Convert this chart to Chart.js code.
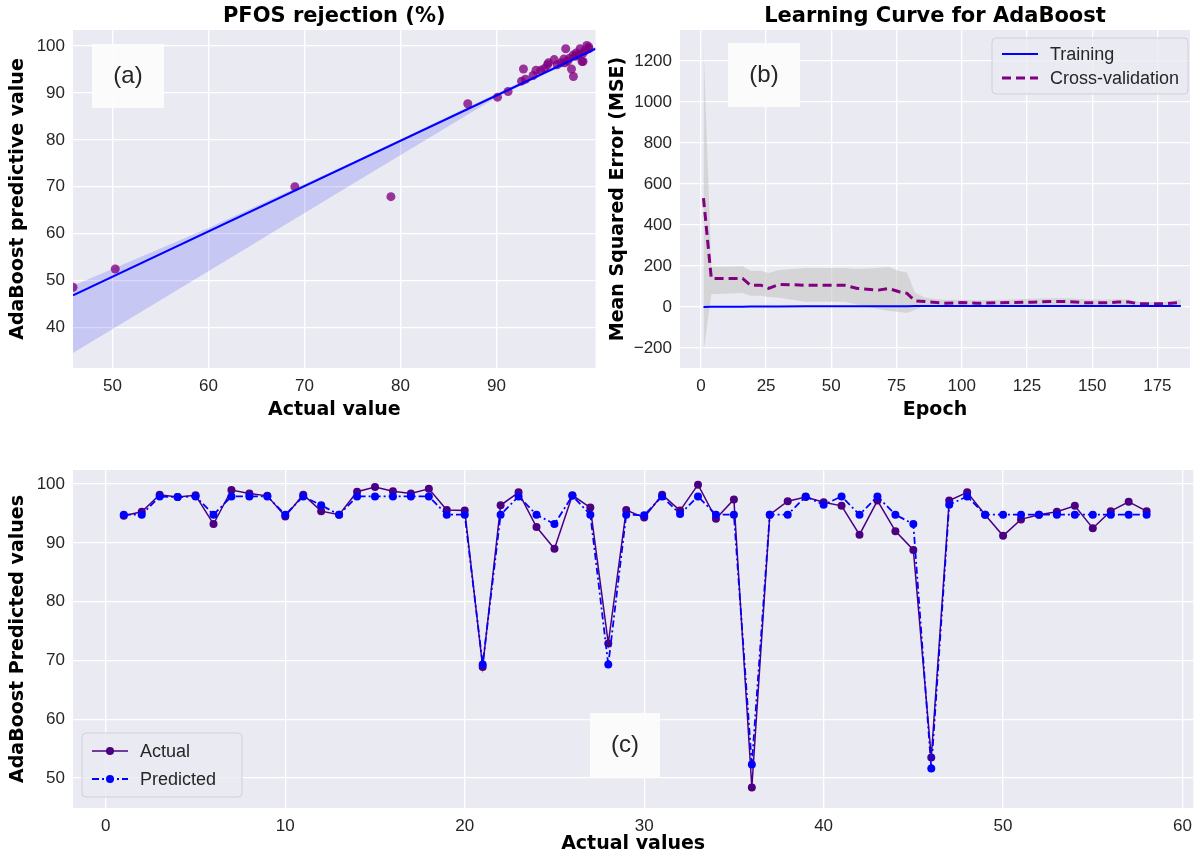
<!DOCTYPE html>
<html lang="en">
<head>
<meta charset="UTF-8">
<title>AdaBoost - PFOS rejection</title>
<script src="https://cdn.jsdelivr.net/npm/chart.js@4.4.1/dist/chart.umd.min.js"></script>
<style>
  body { margin: 0; background: #fff; width: 1200px; height: 859px; position: relative; overflow: hidden; }
  canvas { position: absolute; }
  #chartA { left: 0; top: 0; }
  #chartB { left: 600px; top: 0; }
  #chartC { left: 0; top: 440px; }
</style>
</head>
<body>
<canvas id="chartA" width="600" height="425"></canvas>
<canvas id="chartB" width="600" height="425"></canvas>
<canvas id="chartC" width="1200" height="419"></canvas>
<script>
// ---- (a) scatter: actual vs AdaBoost predicted ----
const scatterActual = [45.9, 50.3, 69.0, 79.0, 87.0, 90.1, 91.2, 92.6, 92.8, 93.0, 93.8, 94.1, 94.6, 95.0, 95.3,
  95.4, 96.0, 96.3, 96.7, 97.0, 97.2, 97.1, 97.4, 97.6, 97.8, 98.0, 98.0, 98.2, 98.3, 98.5, 98.7, 98.9, 99.0,
  99.0, 99.2, 99.4, 99.6, 99.6];
const scatterPred = [48.6, 52.5, 70.0, 67.9, 87.7, 89.1, 90.3, 92.5, 95.1, 92.9, 93.7, 94.8, 94.8, 95.2, 96.0,
  96.4, 97.1, 96.0, 96.4, 97.2, 99.4, 96.4, 96.8, 97.4, 95.1, 93.5, 98.1, 97.8, 98.5, 98.0, 99.4, 96.7, 96.7,
  98.5, 99.0, 100.1, 99.8, 99.4];
const regX = [45.9, 100.3];
const regY = [46.9, 99.4];
const bandX = [45.9, 60, 75, 90, 100.3];
const bandUpper = [48.9, 61.2, 75.3, 89.9, 99.7];
const bandLower = [34.6, 52.0, 70.6, 89.1, 99.1];
const ticksAx = [50, 60, 70, 80, 90];
const ticksAy = [40, 50, 60, 70, 80, 90, 100];

// ---- (b) learning curve ----
const epochs = [1, 4, 16, 19, 23, 26, 30, 40, 55, 60, 68, 72, 76, 79, 82, 86, 93, 100, 106, 113, 120, 127,
  134, 141, 148, 155, 160, 164, 168, 173, 178, 184];
const trainMse = [0, 1, 1, 2, 2, 2, 2, 3, 3, 3, 3, 3, 3, 3, 4, 4, 4, 4, 4, 4, 4, 4, 4, 5, 5, 5, 5, 5, 5, 5, 5, 5];
const cvMse = [531, 139, 139, 106, 106, 90, 110, 106, 106, 90, 82, 90, 74, 66, 30, 26, 18, 21, 18, 20, 22, 23,
  26, 26, 20, 20, 24, 24, 15, 15, 15, 22];
const cvUpper = [1285, 195, 198, 176, 176, 165, 180, 190, 190, 185, 190, 195, 175, 168, 70, 45, 35, 35, 32, 34,
  38, 40, 42, 42, 36, 36, 38, 36, 25, 24, 24, 38];
const cvLower = [-225, 62, 68, 55, 55, 48, 45, 25, 25, 12, -10, -20, -25, -30, -15, 8, 4, 8, 6, 7, 8, 8, 10, 10,
  6, 6, 9, 10, 5, 6, 6, 8];
const ticksBx = [0, 25, 50, 75, 100, 125, 150, 175];
const ticksBy = [-200, 0, 200, 400, 600, 800, 1000, 1200];

// ---- (c) sample-wise comparison ----
const samples = Array.from({length: 58}, (_, i) => i + 1);
const actualVals = [94.6, 95.3, 98.2, 97.8, 98.1, 93.2, 99.0, 98.4, 98.0, 94.5, 98.2, 95.4, 94.8, 98.7, 99.5,
  98.8, 98.4, 99.2, 95.6, 95.5, 68.9, 96.4, 98.6, 92.7, 89.0, 98.1, 96.0, 72.9, 95.6, 94.3, 98.2, 95.5, 99.9,
  94.1, 97.4, 48.4, 94.8, 97.1, 97.8, 96.9, 96.3, 91.4, 97.2, 92.0, 88.8, 53.5, 97.2, 98.6, 94.8, 91.2, 94.0,
  94.8, 95.3, 96.3, 92.5, 95.4, 97.0, 95.4];
const predictedVals = [94.8, 94.8, 97.9, 97.8, 97.9, 94.8, 97.9, 97.9, 97.9, 94.8, 97.9, 96.4, 94.8, 97.9, 97.9,
  97.9, 97.9, 97.9, 94.8, 94.8, 69.3, 94.8, 97.9, 94.8, 93.2, 98.0, 94.8, 69.3, 94.8, 94.7, 97.9, 94.9, 97.9,
  94.8, 94.8, 52.3, 94.8, 94.8, 97.9, 96.5, 97.9, 94.8, 97.9, 94.8, 93.2, 51.6, 96.5, 97.9, 94.8, 94.8, 94.8,
  94.8, 94.8, 94.8, 94.8, 94.8, 94.8, 94.8];
const ticksCx = [0, 10, 20, 30, 40, 50, 60];
const ticksCy = [50, 60, 70, 80, 90, 100];

const pts = (xs, ys) => xs.map((x, i) => ({x: x, y: ys[i]}));

const tickFont = {family: 'Liberation Sans, Arial, sans-serif', size: 17};
const labelFont = {family: 'DejaVu Sans, sans-serif', size: 19, weight: 'bold'};
const minusFmt = v => (v < 0 ? '\u2212' + Math.abs(v) : String(v));

// axes background + title + tag box + legend drawn around the library's chart area
const panelDeco = {
  id: 'panelDeco',
  beforeDraw(chart, args, o) {
    const {ctx, chartArea: a} = chart;
    ctx.save();
    ctx.fillStyle = '#eaeaf2';
    ctx.fillRect(a.left, a.top, a.width, a.height);
    ctx.restore();
  },
  afterDraw(chart, args, o) {
    const {ctx, chartArea: a} = chart;
    ctx.save();
    if (o.title) {
      ctx.fillStyle = '#000';
      ctx.font = 'bold 21px "DejaVu Sans", sans-serif';
      ctx.textAlign = 'center';
      ctx.textBaseline = 'middle';
      ctx.fillText(o.title, (a.left + a.right) / 2, a.top - 13);
    }
    if (o.tag) {
      const t = o.tag;
      ctx.fillStyle = 'rgba(252,252,252,0.95)';
      ctx.fillRect(a.left + t.dx, a.top + t.dy, t.w, t.h);
      ctx.fillStyle = '#262626';
      ctx.font = '24px "Liberation Sans", Arial, sans-serif';
      ctx.textAlign = 'center';
      ctx.textBaseline = 'middle';
      ctx.fillText(t.text, a.left + t.dx + t.w / 2, a.top + t.dy + t.h / 2);
    }
    if (o.legend) {
      const L = o.legend;
      const x0 = L.fromRight ? a.right - L.dx - L.w : a.left + L.dx;
      const y0 = L.fromBottom ? a.bottom - L.dy - L.h : a.top + L.dy;
      ctx.beginPath();
      ctx.roundRect(x0, y0, L.w, L.h, 4);
      ctx.fillStyle = 'rgba(234,234,242,0.8)';
      ctx.fill();
      ctx.strokeStyle = '#d0d0d8';
      ctx.lineWidth = 1;
      ctx.stroke();
      ctx.font = '18px "Liberation Sans", Arial, sans-serif';
      ctx.textBaseline = 'middle';
      ctx.textAlign = 'left';
      L.items.forEach((it, i) => {
        const yy = y0 + L.h / 2 + (i - (L.items.length - 1) / 2) * L.gap;
        ctx.beginPath();
        ctx.setLineDash(it.dash || []);
        ctx.strokeStyle = it.color;
        ctx.lineWidth = it.width;
        ctx.moveTo(x0 + 10, yy);
        ctx.lineTo(x0 + 46, yy);
        ctx.stroke();
        ctx.setLineDash([]);
        if (it.marker) {
          ctx.beginPath();
          ctx.fillStyle = it.color;
          ctx.arc(x0 + 28, yy, 4, 0, Math.PI * 2);
          ctx.fill();
        }
        ctx.fillStyle = '#262626';
        ctx.fillText(it.label, x0 + 58, yy + 1);
      });
    }
    ctx.restore();
  }
};

function axis(min, max, tickList, title, fixedSize, isY) {
  return {
    type: 'linear',
    min: min,
    max: max,
    border: {display: false},
    grid: {color: '#ffffff', lineWidth: 1.3, drawTicks: false},
    ticks: {font: tickFont, color: '#262626', padding: 8, callback: minusFmt},
    afterBuildTicks: s => { s.ticks = tickList.map(v => ({value: v})); },
    afterFit: s => { if (isY) s.width = fixedSize; else s.height = fixedSize; },
    title: {display: true, text: title, font: labelFont, color: '#000',
      padding: isY ? {top: 7, bottom: 4} : {top: 2, bottom: 4}}
  };
}

const common = {
  responsive: false,
  animation: false,
  events: [],
  plugins: {legend: {display: false}, tooltip: {enabled: false}}
};

// (a)
new Chart(document.getElementById('chartA'), {
  type: 'scatter',
  data: {
    datasets: [
      {data: pts(regX, regY), showLine: true, borderColor: '#0000ff', borderWidth: 2, pointRadius: 0},
      {data: pts(scatterActual, scatterPred), backgroundColor: 'rgba(128,0,128,0.78)', borderWidth: 0, pointRadius: 4.5},
      {data: pts(bandX, bandLower), showLine: true, borderWidth: 0, pointRadius: 0, fill: false},
      {data: pts(bandX, bandUpper), showLine: true, borderWidth: 0, pointRadius: 0,
        fill: '-1', backgroundColor: 'rgba(0,0,255,0.15)'}
    ]
  },
  options: Object.assign({}, common, {
    layout: {padding: {top: 30, right: 4, left: 0, bottom: 0}},
    scales: {
      x: axis(45.9, 100.3, ticksAx, 'Actual value', 57, false),
      y: axis(31.4, 103.4, ticksAy, 'AdaBoost predictive value', 73, true)
    },
    plugins: Object.assign({}, common.plugins, {
      panelDeco: {title: 'PFOS rejection (%)', tag: {text: '(a)', dx: 19, dy: 14, w: 72, h: 64}}
    })
  }),
  plugins: [panelDeco]
});

// (b)
new Chart(document.getElementById('chartB'), {
  type: 'scatter',
  data: {
    datasets: [
      {data: pts(epochs, trainMse), showLine: true, borderColor: '#0000ff', borderWidth: 2, pointRadius: 0},
      {data: pts(epochs, cvMse), showLine: true, borderColor: '#800080', borderWidth: 3,
        borderDash: [9, 5], pointRadius: 0},
      {data: pts(epochs, cvLower), showLine: true, borderWidth: 0, pointRadius: 0, fill: false},
      {data: pts(epochs, cvUpper), showLine: true, borderWidth: 0, pointRadius: 0,
        fill: '-1', backgroundColor: 'rgba(195,195,195,0.55)'}
    ]
  },
  options: Object.assign({}, common, {
    layout: {padding: {top: 30, right: 10, left: 0, bottom: 0}},
    scales: {
      x: axis(-8, 187.5, ticksBx, 'Epoch', 57, false),
      y: axis(-298, 1351, ticksBy, 'Mean Squared Error (MSE)', 80, true)
    },
    plugins: Object.assign({}, common.plugins, {
      panelDeco: {
        title: 'Learning Curve for AdaBoost',
        tag: {text: '(b)', dx: 48, dy: 13, w: 72, h: 64},
        legend: {fromRight: true, dx: 2, dy: 8, w: 196, h: 56, gap: 24, items: [
          {label: 'Training', color: '#0000ff', width: 2},
          {label: 'Cross-validation', color: '#800080', width: 3, dash: [9, 5]}
        ]}
      }
    })
  }),
  plugins: [panelDeco]
});

// (c)
new Chart(document.getElementById('chartC'), {
  type: 'scatter',
  data: {
    datasets: [
      {data: pts(samples, predictedVals), showLine: true, borderColor: '#0000ff', borderWidth: 1.8,
        borderDash: [7, 3, 2, 3], pointRadius: 4, pointBackgroundColor: '#0000ff', pointBorderWidth: 0},
      {data: pts(samples, actualVals), showLine: true, borderColor: '#4b0082', borderWidth: 1.5,
        pointRadius: 4, pointBackgroundColor: '#4b0082', pointBorderWidth: 0}
    ]
  },
  options: Object.assign({}, common, {
    layout: {padding: {top: 30, right: 4, left: 0, bottom: 0}},
    scales: {
      x: axis(-1.83, 60.6, ticksCx, 'Actual values', 51, false),
      y: axis(44.9, 102.4, ticksCy, 'AdaBoost Predicted values', 73, true)
    },
    plugins: Object.assign({}, common.plugins, {
      panelDeco: {
        tag: {text: '(c)', dx: 517, dy: 243, w: 70, h: 64},
        legend: {fromBottom: true, dx: 9, dy: 11, w: 160, h: 64, gap: 28, items: [
          {label: 'Actual', color: '#4b0082', width: 1.5, marker: true},
          {label: 'Predicted', color: '#0000ff', width: 1.8, dash: [7, 3, 2, 3], marker: true}
        ]}
      }
    })
  }),
  plugins: [panelDeco]
});
</script>
</body>
</html>
